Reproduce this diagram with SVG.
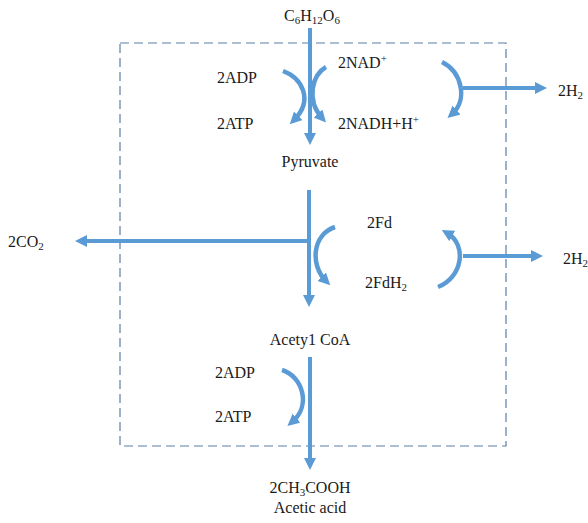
<svg xmlns="http://www.w3.org/2000/svg" width="588" height="523" viewBox="0 0 588 523">
<style>
text{font-family:"Liberation Serif","Times New Roman",serif;font-size:16px;fill:#1a1a1a}
.sub{font-size:11px}
.ln{fill:none;stroke:#5b9bd5;stroke-width:4;marker-end:url(#ah)}
.cv{fill:none;stroke:#5b9bd5;stroke-width:4.5;marker-end:url(#ah)}
.box{fill:none;stroke:#5a7ea6;stroke-width:1.2;stroke-dasharray:9 5}
</style>
<defs>
<marker id="ah" markerUnits="userSpaceOnUse" markerWidth="13" markerHeight="13" refX="6" refY="6" orient="auto">
<path d="M0,0 L12,6 L0,12 z" fill="#5b9bd5"/>
</marker>
</defs>
<rect class="box" x="120" y="43" width="386" height="403"/>
<g id="connectors">
<path class="ln" d="M310 28 L310 139"/>
<path class="ln" d="M309 190 L309 301"/>
<path class="ln" d="M310 357 L310 464"/>
<path class="ln" d="M309 241 L81 241"/>
<path class="ln" d="M463 88 L541 88"/>
<path class="ln" d="M463 256 L537 256"/>
<path class="cv" d="M283 71 C302 78 314 100 294 120"/>
<path class="cv" d="M326 67 C312 75 306 100 322 118"/>
<path class="cv" d="M442 62 C462 72 468 100 452 114"/>
<path class="cv" d="M335 227 C312 235 310 265 326 281"/>
<path class="cv" d="M438 287 C462 278 468 245 447 233"/>
<path class="cv" d="M282 370 C302 376 312 405 292 422"/>
</g>
<g id="glucose"><text x="312" y="21" text-anchor="middle">C<tspan class="sub" dy="3">6</tspan><tspan dy="-3">H</tspan><tspan class="sub" dy="3">12</tspan><tspan dy="-3">O</tspan><tspan class="sub" dy="3">6</tspan></text></g>
<g id="adp1"><text x="217" y="83">2ADP</text></g>
<g id="atp1"><text x="217" y="129">2ATP</text></g>
<g id="nad"><text x="338" y="68">2NAD<tspan class="sub" dy="-6">+</tspan></text></g>
<g id="nadh"><text x="338" y="129">2NADH+H<tspan class="sub" dy="-6">+</tspan></text></g>
<g id="h2a"><text x="558" y="96">2H<tspan class="sub" dy="3">2</tspan></text></g>
<g id="pyruvate"><text x="310" y="167" text-anchor="middle">Pyruvate</text></g>
<g id="co2"><text x="8" y="247">2CO<tspan class="sub" dy="3">2</tspan></text></g>
<g id="fd"><text x="367" y="228">2Fd</text></g>
<g id="fdh2"><text x="365" y="288">2FdH<tspan class="sub" dy="3">2</tspan></text></g>
<g id="h2b"><text x="563" y="264">2H<tspan class="sub" dy="3">2</tspan></text></g>
<g id="acetylcoa"><text x="310" y="345" text-anchor="middle">Acety1 CoA</text></g>
<g id="adp2"><text x="215" y="378">2ADP</text></g>
<g id="atp2"><text x="215" y="422">2ATP</text></g>
<g id="acetate"><text x="310" y="493" text-anchor="middle">2CH<tspan class="sub" dy="3">3</tspan><tspan dy="-3">COOH</tspan></text><text x="310" y="513" text-anchor="middle">Acetic acid</text></g>
</svg>
